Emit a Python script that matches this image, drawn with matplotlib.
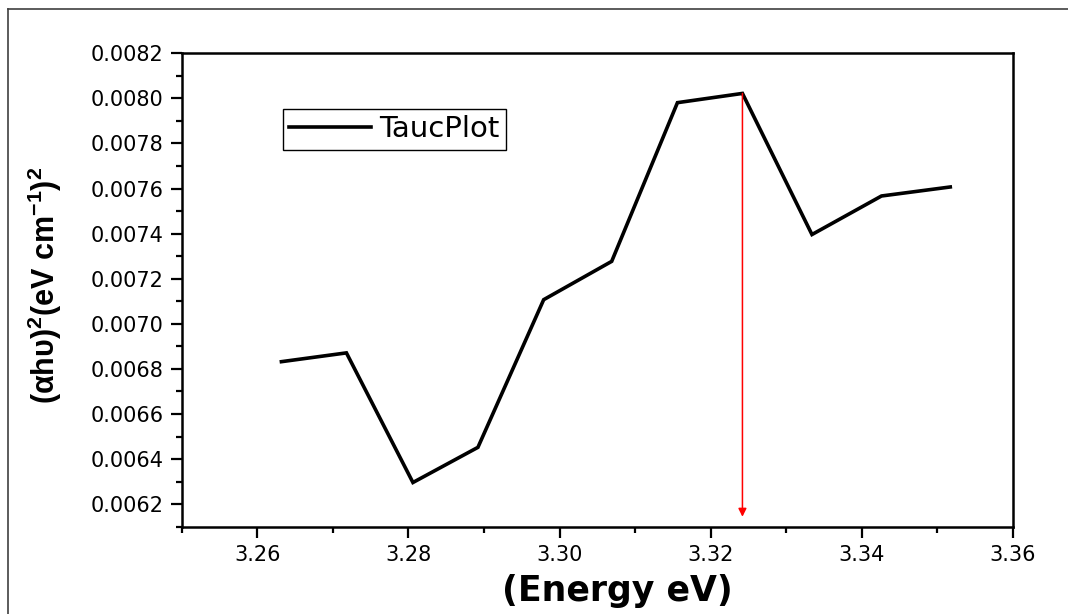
import matplotlib
matplotlib.use("Agg")
import matplotlib.pyplot as plt
from matplotlib.lines import Line2D
from matplotlib.ticker import MultipleLocator, FormatStrFormatter

plt.rcParams["mathtext.default"] = "regular"

# Tauc plot data
energy = [3.2632, 3.2718, 3.2806, 3.2892, 3.2979, 3.3069,
          3.3156, 3.3242, 3.3334, 3.3426, 3.3517]
tauc = [0.006832, 0.006871, 0.006296, 0.006452, 0.007107, 0.007277,
        0.007981, 0.008022, 0.007396, 0.007567, 0.007607]

# band gap marker
gap_energy = 3.3242
gap_top = 0.008022
gap_bottom = 0.006144

fig = plt.figure(figsize=(10.68, 6.14), dpi=100)
ax = fig.add_axes([0.1701, 0.1422, 0.7784, 0.771])

ax.plot(energy, tauc, color="black", lw=2.6, solid_joinstyle="miter",
        label="TaucPlot")

ax.annotate("", xy=(gap_energy, gap_bottom), xytext=(gap_energy, gap_top),
            arrowprops=dict(arrowstyle="-|>", color="red", lw=1.1,
                            mutation_scale=12, shrinkA=0, shrinkB=0))

ax.set_xlim(3.25, 3.36)
ax.set_ylim(0.0061, 0.0082)
ax.set_xticks([3.26, 3.28, 3.30, 3.32, 3.34, 3.36])
ax.xaxis.set_minor_locator(MultipleLocator(0.01))
ax.set_yticks([0.0062, 0.0064, 0.0066, 0.0068, 0.0070, 0.0072,
               0.0074, 0.0076, 0.0078, 0.0080, 0.0082])
ax.yaxis.set_minor_locator(MultipleLocator(0.0001))
ax.xaxis.set_major_formatter(FormatStrFormatter("%.2f"))
ax.yaxis.set_major_formatter(FormatStrFormatter("%.4f"))

for s in ax.spines.values():
    s.set_linewidth(1.8)
ax.tick_params(which="major", direction="out", length=8, width=1.6,
               labelsize=15, pad=5, colors="black")
ax.tick_params(which="minor", direction="out", length=4.5, width=1.6)
for lbl in ax.get_xticklabels() + ax.get_yticklabels():
    lbl.set_family("DejaVu Sans")

ax.set_xlabel("(Energy eV)", fontsize=25, fontweight="bold",
              family="DejaVu Sans")
ax.xaxis.set_label_coords(0.5237, -0.100)
ax.set_ylabel("(αhυ)$^2$(eV cm$^{-1}$)$^2$", fontsize=22, fontweight="bold",
              family="Liberation Sans")
ax.yaxis.set_label_coords(-0.142, 0.51)

leg = ax.legend(loc="upper left", bbox_to_anchor=(282.7 / 1068, 1 - 109 / 614),
                bbox_transform=fig.transFigure, borderaxespad=0,
                fancybox=False, framealpha=1, edgecolor="black",
                handlelength=2.8, handletextpad=0.3, borderpad=0.22,
                prop={"family": "DejaVu Sans", "size": 21})
leg.get_frame().set_linewidth(1.0)

# outer frame along the left and top edges
fig.add_artist(Line2D([8 / 1068, 8 / 1068], [0, 1 - 9 / 614],
                      transform=fig.transFigure, color="#404040", lw=1.2))
fig.add_artist(Line2D([8 / 1068, 1], [1 - 9 / 614, 1 - 9 / 614],
                      transform=fig.transFigure, color="#404040", lw=1.2))

fig.savefig("out.png", dpi=100, facecolor="white")
